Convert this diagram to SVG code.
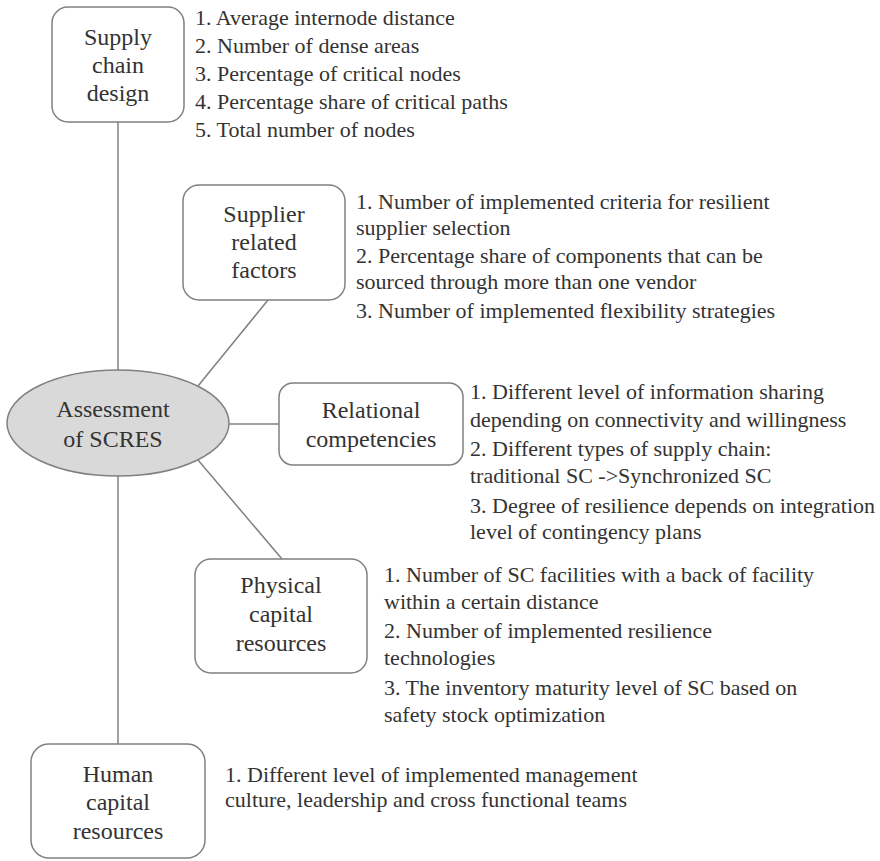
<svg xmlns="http://www.w3.org/2000/svg" width="880" height="861" viewBox="0 0 880 861">
<style>
.box{fill:#fff;stroke:#808080;stroke-width:1.5}
.ell{fill:#d9d9d9;stroke:#808080;stroke-width:1.5}
text{font-family:'Liberation Serif','Times New Roman',serif;fill:#333}
.lbl{font-size:24px;text-anchor:middle}
.lst{font-size:22px}
.con line{stroke:#808080;stroke-width:1.5}
</style>
<rect width="880" height="861" fill="#fff"/>
<g class="con" id="connectors">
<line x1="118" y1="122" x2="118" y2="370"/>
<line x1="198" y1="386" x2="268" y2="300"/>
<line x1="229" y1="424" x2="279" y2="424"/>
<line x1="198" y1="460" x2="282" y2="559"/>
<line x1="118" y1="476" x2="118" y2="744"/>
</g>
<g id="assessment">
<ellipse class="ell" cx="118" cy="423" rx="111" ry="53"/>
<text class="lbl" x="113" y="417">Assessment</text>
<text class="lbl" x="113" y="447">of SCRES</text>
</g>
<g id="supply-chain-design">
<rect class="box" x="52" y="7" width="132" height="115" rx="16"/>
<text class="lbl" x="118" y="45">Supply</text>
<text class="lbl" x="118" y="73">chain</text>
<text class="lbl" x="118" y="101">design</text>
<text class="lst" x="195" y="25">1. Average internode distance</text>
<text class="lst" x="195" y="53">2. Number of dense areas</text>
<text class="lst" x="195" y="81">3. Percentage of critical nodes</text>
<text class="lst" x="195" y="109">4. Percentage share of critical paths</text>
<text class="lst" x="195" y="137">5. Total number of nodes</text>
</g>
<g id="supplier-related-factors">
<rect class="box" x="183" y="185" width="162" height="115" rx="16"/>
<text class="lbl" x="264" y="222">Supplier</text>
<text class="lbl" x="264" y="250">related</text>
<text class="lbl" x="264" y="278">factors</text>
<text class="lst" x="356" y="209">1. Number of implemented criteria for resilient</text>
<text class="lst" x="356" y="235">supplier selection</text>
<text class="lst" x="356" y="263">2. Percentage share of components that can be</text>
<text class="lst" x="356" y="289">sourced through more than one vendor</text>
<text class="lst" x="356" y="318">3. Number of implemented flexibility strategies</text>
</g>
<g id="relational-competencies">
<rect class="box" x="279" y="383" width="184" height="82" rx="14"/>
<text class="lbl" x="371" y="418">Relational</text>
<text class="lbl" x="371" y="447">competencies</text>
<text class="lst" x="470" y="399">1. Different level of information sharing</text>
<text class="lst" x="470" y="427">depending on connectivity and willingness</text>
<text class="lst" x="470" y="456">2. Different types of supply chain:</text>
<text class="lst" x="470" y="483">traditional SC -&gt;Synchronized SC</text>
<text class="lst" x="470" y="513">3. Degree of resilience depends on integration</text>
<text class="lst" x="470" y="539">level of contingency plans</text>
</g>
<g id="physical-capital-resources">
<rect class="box" x="195" y="559" width="172" height="114" rx="16"/>
<text class="lbl" x="281" y="593">Physical</text>
<text class="lbl" x="281" y="622">capital</text>
<text class="lbl" x="281" y="651">resources</text>
<text class="lst" x="384" y="582">1. Number of SC facilities with a back of facility</text>
<text class="lst" x="384" y="609">within a certain distance</text>
<text class="lst" x="384" y="638">2. Number of implemented resilience</text>
<text class="lst" x="384" y="665">technologies</text>
<text class="lst" x="384" y="695">3. The inventory maturity level of SC based on</text>
<text class="lst" x="384" y="722">safety stock optimization</text>
</g>
<g id="human-capital-resources">
<rect class="box" x="31" y="744" width="174" height="114" rx="18"/>
<text class="lbl" x="118" y="782">Human</text>
<text class="lbl" x="118" y="810">capital</text>
<text class="lbl" x="118" y="839">resources</text>
<text class="lst" x="225" y="782">1. Different level of implemented management</text>
<text class="lst" x="225" y="807">culture, leadership and cross functional teams</text>
</g>
</svg>
